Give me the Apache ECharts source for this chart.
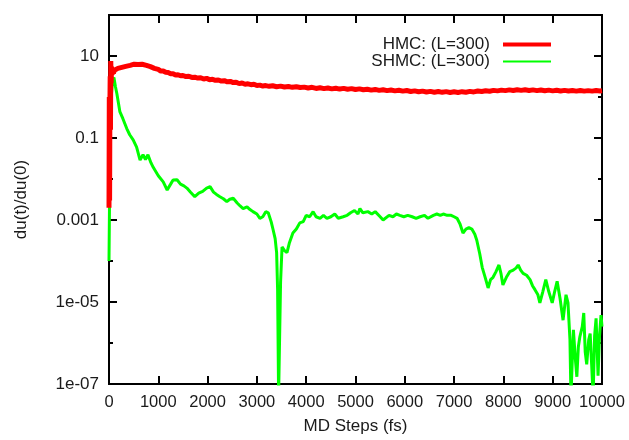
<!DOCTYPE html>
<html>
<head>
<meta charset="utf-8">
<script src="https://cdn.jsdelivr.net/npm/echarts@6/dist/echarts.min.js"></script>
<style>
  html, body { margin: 0; padding: 0; background: #fff; }
  #myEcharts { width: 629px; height: 440px; }
</style>
</head>
<body>
<div id="myEcharts"></div>
<script>
var xTicks = [0, 1000, 2000, 3000, 4000, 5000, 6000, 7000, 8000, 9000, 10000];
var yTickValues = [1e-7, 1e-5, 1e-3, 0.1, 10];
var yTickLabels = ['1e-07', '1e-05', '0.001', '0.1', '10'];

var hmcSteps = [0, 6, 12, 18, 24, 30, 36, 44, 52, 62, 75, 90, 110, 140, 180, 220, 260, 300, 340, 380,
  430, 470, 510, 550, 590, 630, 670, 710, 760, 800, 840, 880, 920, 960, 1000, 1050, 1100, 1150, 1200, 1250,
  1300, 1350, 1400, 1450, 1500, 1560, 1620, 1680, 1740, 1800, 1860, 1920, 1980, 2040, 2100, 2160, 2220, 2280, 2340, 2400,
  2460, 2520, 2580, 2640, 2700, 2760, 2820, 2880, 2940, 3000, 3060, 3120, 3180, 3250, 3320, 3400, 3480, 3560, 3640, 3720,
  3800, 3880, 3960, 4040, 4120, 4200, 4280, 4360, 4440, 4520, 4600, 4680, 4760, 4840, 4920, 5000, 5080, 5160, 5240, 5320,
  5400, 5480, 5560, 5640, 5720, 5800, 5880, 5960, 6040, 6120, 6200, 6280, 6360, 6440, 6520, 6600, 6680, 6760, 6840, 6920,
  7000, 7080, 7160, 7240, 7320, 7400, 7480, 7560, 7640, 7720, 7800, 7880, 7960, 8040, 8120, 8200, 8280, 8360, 8440, 8520,
  8600, 8680, 8760, 8840, 8920, 9000, 9080, 9160, 9240, 9320, 9400, 9480, 9560, 9640, 9720, 9800, 9880, 9960, 10000];
var hmcValues = [0.002, 1.0, 0.003, 0.6, 3.2, 0.16, 7.5, 2.2, 5.5, 3.5, 4.6, 3.8, 4.5, 4.4, 5.0, 4.8, 5.3, 5.1, 5.6, 5.4,
  5.9, 5.6, 6.3, 5.8, 6.2, 6.0, 6.3, 5.8, 5.9, 5.5, 5.5, 5.1, 5.0, 4.7, 4.7, 4.3, 4.3, 4.0, 3.95, 3.7,
  3.7, 3.45, 3.5, 3.3, 3.35, 3.15, 3.2, 3.0, 3.05, 2.9, 2.95, 2.75, 2.85, 2.65, 2.7, 2.55, 2.6, 2.45, 2.5, 2.35,
  2.4, 2.25, 2.3, 2.12, 2.2, 2.05, 2.1, 2.0, 2.05, 1.9, 1.95, 1.85, 1.9, 1.82, 1.88, 1.78, 1.84, 1.75, 1.8, 1.72,
  1.78, 1.7, 1.74, 1.66, 1.72, 1.62, 1.68, 1.6, 1.66, 1.58, 1.64, 1.56, 1.62, 1.55, 1.6, 1.52, 1.58, 1.5, 1.55, 1.47,
  1.53, 1.45, 1.5, 1.43, 1.48, 1.41, 1.46, 1.39, 1.44, 1.36, 1.41, 1.34, 1.39, 1.32, 1.37, 1.31, 1.36, 1.3, 1.35, 1.29,
  1.34, 1.29, 1.35, 1.31, 1.37, 1.33, 1.4, 1.36, 1.42, 1.38, 1.45, 1.41, 1.47, 1.43, 1.49, 1.44, 1.5, 1.45, 1.5, 1.44,
  1.49, 1.43, 1.48, 1.42, 1.47, 1.41, 1.46, 1.4, 1.45, 1.4, 1.44, 1.39, 1.44, 1.39, 1.43, 1.39, 1.44, 1.4, 1.42];

var shmcSteps = [0, 20, 40, 70, 100, 130, 160, 220, 280, 360, 420, 490, 560, 630, 690, 740, 790, 850, 900, 1000,
  1100, 1180, 1250, 1300, 1380, 1450, 1520, 1580, 1650, 1740, 1820, 1900, 1980, 2050, 2120, 2180, 2250, 2320, 2390, 2450,
  2520, 2600, 2660, 2720, 2800, 2860, 2920, 3000, 3060, 3120, 3180, 3230, 3290, 3330, 3370, 3400, 3420, 3440, 3460, 3480,
  3510, 3560, 3610, 3660, 3730, 3800, 3870, 3940, 4000, 4070, 4140, 4200, 4280, 4350, 4420, 4500, 4580, 4650, 4750, 4830,
  4900, 4980, 5050, 5090, 5150, 5250, 5330, 5400, 5440, 5500, 5560, 5600, 5680, 5760, 5830, 5900, 5980, 6060, 6150, 6230,
  6310, 6400, 6470, 6510, 6580, 6650, 6720, 6780, 6860, 6940, 7000, 7060, 7120, 7180, 7240, 7300, 7360, 7420, 7460, 7520,
  7570, 7630, 7690, 7740, 7790, 7850, 7910, 7950, 7990, 8060, 8130, 8200, 8260, 8300, 8350, 8400, 8470, 8540, 8590, 8640,
  8700, 8740, 8800, 8860, 8920, 8990, 9040, 9090, 9150, 9210, 9270, 9310, 9350, 9370, 9420, 9460, 9490, 9520, 9550, 9600,
  9630, 9660, 9690, 9730, 9760, 9790, 9820, 9850, 9880, 9920, 9950, 9980, 10000];
var shmcValues = [1e-4, 0.05, 0.8, 2.5, 3.0, 1.8, 1.2, 0.44, 0.3, 0.17, 0.12, 0.09, 0.06, 0.029, 0.039, 0.03, 0.039, 0.025, 0.019, 0.012,
  0.0085, 0.0054, 0.0075, 0.0095, 0.0096, 0.0075, 0.0068, 0.006, 0.0048, 0.0037, 0.0045, 0.005, 0.006, 0.0065, 0.0048, 0.0042, 0.0037, 0.0033, 0.0028, 0.0032,
  0.0034, 0.0026, 0.0022, 0.0019, 0.0021, 0.0018, 0.0016, 0.0014, 0.0011, 0.0012, 0.0016, 0.0015, 0.0009, 0.00057, 0.00035, 0.00016, 0.00002, 5e-8, 5e-8, 0.00003,
  0.00022, 0.00018, 0.00016, 0.00028, 0.00048, 0.0006, 0.00085, 0.00091, 0.0013, 0.0012, 0.0016, 0.0012, 0.0011, 0.0013, 0.0011, 0.0012, 0.0014, 0.0011, 0.0012, 0.0013,
  0.0015, 0.0017, 0.0014, 0.0019, 0.0015, 0.0016, 0.0014, 0.0016, 0.0015, 0.0012, 0.001, 0.0011, 0.0013, 0.0012, 0.0014, 0.0013, 0.0012, 0.0013, 0.0012, 0.0011,
  0.0012, 0.0013, 0.0011, 0.00105, 0.0013, 0.0014, 0.0013, 0.0014, 0.0013, 0.0013, 0.0012, 0.0011, 0.0008, 0.00048, 0.0006, 0.00065, 0.0006, 0.00045, 0.00032, 0.00015,
  0.00007, 0.00004, 0.000022, 0.000035, 0.00004, 0.000055, 0.00008, 0.00005, 0.000026, 0.00004, 0.000055, 0.00006, 0.000068, 0.00008, 0.00006, 0.00005, 0.000045, 0.000035, 0.000025, 0.00002,
  0.000015, 0.0000095, 0.000018, 0.000035, 0.000018, 0.0000095, 0.000018, 0.000032, 0.000012, 0.0000036, 0.000015, 0.0000095, 0.0000012, 5e-8, 0.0000021, 0.0000004, 1.5e-7, 0.0000008, 0.0000014, 0.0000025,
  0.0000054, 0.0000006, 3e-7, 0.0000012, 0.0000017, 0.0000003, 5e-8, 0.0000015, 0.000004, 1.6e-7, 0.0000015, 0.0000048, 0.0000025];

function pairs(xs, ys) {
  var out = [];
  for (var i = 0; i < xs.length; i++) out.push([xs[i], ys[i]]);
  return out;
}

var chartDom = document.getElementById('myEcharts');
var myChart = echarts.init(chartDom, null, { renderer: 'canvas' });
var font = 'Liberation Sans, Arial, Helvetica, sans-serif';
var textColor = '#1a1a1a';

function yLabel(v) {
  for (var i = 0; i < yTickValues.length; i++) {
    if (Math.abs(Math.log10(v) - Math.log10(yTickValues[i])) < 0.01) return yTickLabels[i];
  }
  return '';
}

// major ticks every 2 decades (labelled), minor every decade
function logAxis(pos, major, showLabel) {
  return {
    type: 'log', logBase: 10, position: pos, min: 1e-7, max: 100,
    interval: major ? 2 : 1,
    axisLine: { show: true, lineStyle: { color: '#000', width: 2 } },
    axisTick: { show: true, inside: true, length: major ? 8 : 4, lineStyle: { color: '#000', width: 2 } },
    axisLabel: { show: showLabel, formatter: yLabel, margin: 10, fontSize: 17, fontFamily: font, color: textColor, showMaxLabel: false },
    splitLine: { show: false },
    name: showLabel ? 'du(t)/du(0)' : '',
    nameLocation: 'middle', nameGap: 79, nameRotate: 90,
    nameTextStyle: { fontSize: 17, fontFamily: font, color: textColor }
  };
}

function legendBox(name, top, h) {
  return {
    data: [{ name: name, icon: 'rect' }], right: 73, top: top, align: 'right',
    itemWidth: 48, itemHeight: h, padding: 5,
    formatter: function (n) { return n + ' \u2009'; },
    textStyle: { fontSize: 17, fontFamily: font, color: textColor }
  };
}

var option = {
  animation: false,
  backgroundColor: '#fff',
  grid: { left: 109, right: 27, top: 15, bottom: 56, containLabel: false },
  legend: [
    legendBox('HMC: (L=300)', 31, 4),
    legendBox('SHMC: (L=300)', 48, 2)
  ],
  xAxis: [
    {
      type: 'value', position: 'bottom', min: xTicks[0], max: xTicks[xTicks.length - 1], interval: 1000,
      axisLine: { show: true, onZero: false, lineStyle: { color: '#000', width: 2 } },
      axisTick: { show: true, inside: true, length: 8, lineStyle: { color: '#000', width: 2 } },
      axisLabel: { margin: 10, fontSize: 16.5, fontFamily: font, color: textColor, formatter: function (v) { return String(v); } },
      splitLine: { show: false },
      name: 'MD Steps (fs)', nameLocation: 'middle', nameGap: 34,
      nameTextStyle: { fontSize: 17, fontFamily: font, color: textColor }
    },
    {
      type: 'value', position: 'top', min: xTicks[0], max: xTicks[xTicks.length - 1], interval: 1000,
      axisLine: { show: true, onZero: false, lineStyle: { color: '#000', width: 2 } },
      axisTick: { show: true, inside: true, length: 8, lineStyle: { color: '#000', width: 2 } },
      axisLabel: { show: false },
      splitLine: { show: false }
    }
  ],
  yAxis: [
    logAxis('left', true, true),
    logAxis('left', false, false),
    logAxis('right', true, false),
    logAxis('right', false, false)
  ],
  series: [
    {
      name: 'HMC: (L=300)', type: 'line', xAxisIndex: 0, yAxisIndex: 0,
      data: pairs(hmcSteps, hmcValues), showSymbol: false, symbol: 'none', clip: true,
      color: '#ff0000', lineStyle: { color: '#ff0000', width: 5 }, z: 3
    },
    {
      name: 'SHMC: (L=300)', type: 'line', xAxisIndex: 0, yAxisIndex: 0,
      data: pairs(shmcSteps, shmcValues), showSymbol: false, symbol: 'none', clip: true,
      color: '#00ff00', lineStyle: { color: '#00ff00', width: 3 }, z: 2
    }
  ]
};

option && myChart.setOption(option);
</script>
</body>
</html>
